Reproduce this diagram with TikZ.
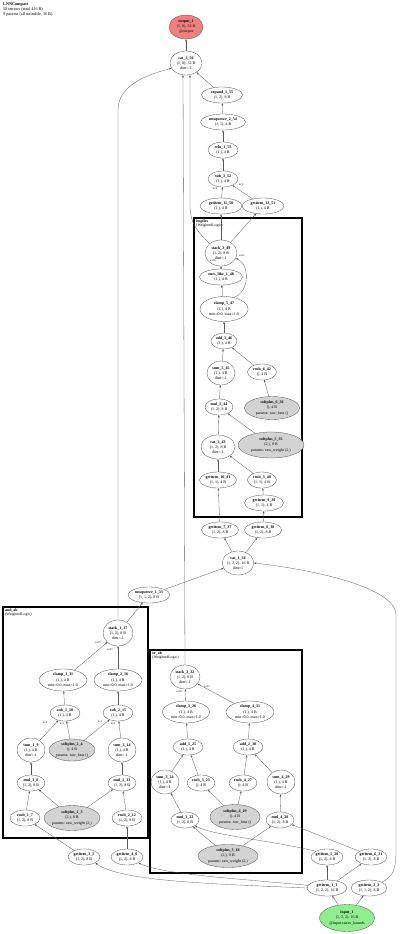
\documentclass[tikz,border=0pt]{standalone}
\usepackage{fontspec}
\setmainfont{Liberation Serif}
\usetikzlibrary{shapes.geometric,arrows.meta}
\definecolor{outc}{RGB}{240,128,128}
\definecolor{inc}{RGB}{144,238,144}
\definecolor{parc}{RGB}{211,211,211}
\tikzset{
 nd/.style={ellipse,draw=black!70,line width=0.3pt,fill=white,inner sep=0pt,align=center,font=\fontsize{4}{5.1}\selectfont},
 par/.style={nd,fill=parc},
 outn/.style={nd,fill=outc},
 inn/.style={nd,fill=inc},
 ar/.style={-{Stealth[length=2.5pt,width=1.9pt]},line width=0.3pt,draw=black!65},
 grp/.style={draw=black,line width=1.3pt},
 grplab/.style={anchor=north west,inner sep=0pt,align=left,font=\fontsize{3.9}{4.4}\selectfont},
 elab/.style={inner sep=0.2pt,font=\fontsize{2.8}{3}\selectfont},
}
\newcommand{\mynode}[7]{\node[#6,minimum width=#4pt,minimum height=#5pt] (#1) at (#2,#3) {#7};}
\newcommand{\nm}[1]{\textbf{#1}}
\begin{document}
\begin{tikzpicture}[x=1pt,y=-1pt]
\useasboundingbox (0,0) rectangle (400,934);
\node[grplab,font=\fontsize{4.2}{4.9}\selectfont] (hdr) at (3,3) {\textbf{LNNCompact}\\58 tensors (total 416 B)\\9 params (all trainable, 36 B)};
% group boxes
\draw[grp] (194,218) rectangle (302,517);
\node[grplab] (lbimp) at (196,219.5) {\textbf{implies}\\(WeightedLogic)};
\draw[grp] (3,607) rectangle (148,838);
\node[grplab] (lband) at (5,608.5) {\textbf{and\_ab}\\(WeightedLogic)};
\draw[grp] (150,650) rectangle (302,873);
\node[grplab] (lbor) at (152,651.5) {\textbf{or\_ab}\\(WeightedLogic)};
% top chain
\mynode{out1}{186}{27}{34}{24}{outn}{\nm{output\_1}\\(1, 8), 32 B\\@output}
\mynode{cat356}{186}{63}{32}{24}{nd}{\nm{cat\_3\_56}\\(1, 8), 32 B\\dim=-1}
\mynode{exp155}{222}{95}{41}{16}{nd}{\nm{expand\_1\_55}\\(1, 2), 8 B}
\mynode{uns254}{223}{122}{45}{16}{nd}{\nm{unsqueeze\_2\_54}\\(1, 1), 4 B}
\mynode{relu153}{223}{150}{30}{16}{nd}{\nm{relu\_1\_53}\\(1,), 4 B}
\mynode{sub352}{223}{179}{30}{16}{nd}{\nm{sub\_3\_52}\\(1,), 4 B}
\mynode{g1150}{221}{206}{42}{16}{nd}{\nm{getitem\_11\_50}\\(1,), 4 B}
\mynode{g1251}{263}{206}{42}{16}{nd}{\nm{getitem\_12\_51}\\(1,), 4 B}
% implies
\mynode{s349}{221}{253}{32}{26}{nd}{\nm{stack\_3\_49}\\(1, 2), 8 B\\dim=-1}
\mynode{ol148}{221}{277}{43}{16}{nd}{\nm{ones\_like\_1\_48}\\(1,), 4 B}
\mynode{c547}{224}{309}{48}{25}{nd}{\nm{clamp\_5\_47}\\(1,), 4 B\\min=0.0, max=1.0}
\mynode{a346}{224}{341}{26}{16}{nd}{\nm{add\_3\_46}\\(1,), 4 B}
\mynode{sum545}{221}{373}{28}{24}{nd}{\nm{sum\_5\_45}\\(1,), 4 B\\dim=-1}
\mynode{r642}{262}{372}{29}{16}{nd}{\nm{rsub\_6\_42}\\(), 4 B}
\mynode{sp636}{272}{408}{55}{23}{par}{\nm{softplus\_6\_36}\\(), 4 B\\params: raw\_beta ()}
\mynode{m544}{219}{407}{28}{16}{nd}{\nm{mul\_5\_44}\\(1, 2), 8 B}
\mynode{cat243}{218}{447}{34}{24}{nd}{\nm{cat\_2\_43}\\(1, 2), 8 B\\dim=-1}
\mynode{sp535}{271}{445}{66}{26}{par}{\nm{softplus\_5\_35}\\(2,), 8 B\\params: raw\_weight (2,)}
\mynode{g1041}{218}{480}{37}{16}{nd}{\nm{getitem\_10\_41}\\(1, 1), 4 B}
\mynode{r540}{262}{480}{29}{16}{nd}{\nm{rsub\_5\_40}\\(1, 1), 4 B}
\mynode{g939}{264}{503}{39}{16}{nd}{\nm{getitem\_9\_39}\\(1, 1), 4 B}
\mynode{g737}{220}{530}{37}{16}{nd}{\nm{getitem\_7\_37}\\(1, 2), 8 B}
\mynode{g838}{263}{530}{37}{16}{nd}{\nm{getitem\_8\_38}\\(1, 2), 8 B}
\mynode{cat134}{238}{563}{31}{24}{nd}{\nm{cat\_1\_34}\\(1, 2, 2), 16 B\\dim=1}
\mynode{uns133}{149}{595}{42}{16}{nd}{\nm{unsqueeze\_1\_33}\\(1, 1, 2), 8 B}
% and
\mynode{s117}{118}{633}{30}{26}{nd}{\nm{stack\_1\_17}\\(1, 2), 8 B\\dim=-1}
\mynode{c111}{63}{680}{48}{22}{nd}{\nm{clamp\_1\_11}\\(1,), 4 B\\min=0.0, max=1.0}
\mynode{c216}{118}{680}{48}{22}{nd}{\nm{clamp\_2\_16}\\(1,), 4 B\\min=0.0, max=1.0}
\mynode{sub110}{65}{713}{30}{16}{nd}{\nm{sub\_1\_10}\\(1,), 4 B}
\mynode{sub215}{118}{713}{30}{16}{nd}{\nm{sub\_2\_15}\\(1,), 4 B}
\mynode{sum19}{31}{750}{28}{24}{nd}{\nm{sum\_1\_9}\\(1,), 4 B\\dim=-1}
\mynode{sp24}{72}{750}{42}{22}{par}{\nm{softplus\_2\_4}\\(), 4 B\\params: raw\_beta ()}
\mynode{sum214}{122}{750}{28}{24}{nd}{\nm{sum\_2\_14}\\(1,), 4 B\\dim=-1}
\mynode{m18}{31}{783}{28}{16}{nd}{\nm{mul\_1\_8}\\(1, 2), 8 B}
\mynode{m213}{122}{783}{28}{16}{nd}{\nm{mul\_2\_13}\\(1, 2), 8 B}
\mynode{sp13}{72}{818}{52}{25}{par}{\nm{softplus\_1\_3}\\(2,), 8 B\\params: raw\_weight (2,)}
\mynode{r17}{25}{818}{30}{16}{nd}{\nm{rsub\_1\_7}\\(1, 2), 8 B}
\mynode{r212}{127}{818}{30}{16}{nd}{\nm{rsub\_2\_12}\\(1, 2), 8 B}
\mynode{g35}{84}{857}{32}{16}{nd}{\nm{getitem\_3\_5}\\(1, 2), 8 B}
\mynode{g46}{127}{857}{32}{16}{nd}{\nm{getitem\_4\_6}\\(1, 2), 8 B}
% or
\mynode{s232}{185}{677}{30}{24}{nd}{\nm{stack\_2\_32}\\(1, 2), 8 B\\dim=-1}
\mynode{c326}{186}{712}{47}{22}{nd}{\nm{clamp\_3\_26}\\(1,), 4 B\\min=0.0, max=1.0}
\mynode{c431}{250}{712}{48}{22}{nd}{\nm{clamp\_4\_31}\\(1,), 4 B\\min=0.0, max=1.0}
\mynode{a125}{188}{747}{30}{16}{nd}{\nm{add\_1\_25}\\(1,), 4 B}
\mynode{a230}{248}{747}{30}{16}{nd}{\nm{add\_2\_30}\\(1,), 4 B}
\mynode{sum324}{165}{782}{28}{24}{nd}{\nm{sum\_3\_24}\\(1,), 4 B\\dim=-1}
\mynode{r323}{201}{783}{28}{16}{nd}{\nm{rsub\_3\_23}\\(), 4 B}
\mynode{r427}{243}{783}{28}{16}{nd}{\nm{rsub\_4\_27}\\(), 4 B}
\mynode{sum429}{281}{782}{28}{24}{nd}{\nm{sum\_4\_29}\\(1,), 4 B\\dim=-1}
\mynode{sp419}{235}{817}{50}{25}{par}{\nm{softplus\_4\_19}\\(), 4 B\\params: raw\_beta ()}
\mynode{m322}{185}{820}{28}{16}{nd}{\nm{mul\_3\_22}\\(1, 2), 8 B}
\mynode{m428}{280}{820}{28}{16}{nd}{\nm{mul\_4\_28}\\(1, 2), 8 B}
\mynode{sp318}{228}{856}{60}{23}{par}{\nm{softplus\_3\_18}\\(2,), 8 B\\params: raw\_weight (2,)}
% bottom
\mynode{g520}{327}{857}{32}{16}{nd}{\nm{getitem\_5\_20}\\(1, 2), 8 B}
\mynode{g621}{371}{857}{32}{16}{nd}{\nm{getitem\_6\_21}\\(1, 2), 8 B}
\mynode{g11}{327}{888}{40}{16}{nd}{\nm{getitem\_1\_1}\\(1, 2, 2), 16 B}
\mynode{g22}{369}{888}{36}{16}{nd}{\nm{getitem\_2\_2}\\(1, 1, 2), 8 B}
\mynode{in1}{347}{918}{55}{27}{inn}{\nm{input\_1}\\(1, 2, 2), 16 B\\@input.states\_bounds}
% ---- edges: top chain
\draw[ar] (cat356) -- (out1);
\draw[ar] (exp155) -- (cat356);
\draw[ar] (uns254) -- (exp155);
\draw[ar] (relu153) -- (uns254);
\draw[ar] (sub352) -- (relu153);
\draw[ar] (g1150) -- (sub352);
\draw[ar] (g1251) -- (sub352);
\node[elab] (lsub0) at (215,189) {in:0};
\node[elab] (lsub1) at (241,185) {in:1};
\draw[ar] (s349) -- (g1150);
\draw[ar] (s349) -- (g1251);
\draw[ar] (s349.north west) .. controls (198,232) and (190,224) .. (190,205) -- ([xshift=4pt]cat356.south);
\draw[ar] (s232.north) -- ([xshift=-3pt]cat356.south);
\draw[ar] (s117.north) -- (118,110) .. controls (118,84) and (150,74) .. (cat356.200);
% implies
\draw[ar] (ol148) -- (s349);
\node[elab] (lv0) at (213,261) {val:0};
\draw[ar] (c547.50) .. controls (250,292) and (250,264) .. (s349.-20);
\node[elab] (lv1) at (242,256) {val:1};
\draw[ar] (c547) -- (ol148);
\draw[ar] (a346) -- (c547);
\draw[ar] (sum545) -- (a346);
\draw[ar] (r642) -- (a346);
\draw[ar] (sp636) -- (r642);
\draw[ar] (m544) -- (sum545);
\draw[ar] (sp535) -- (m544);
\draw[ar] (cat243) -- (m544);
\draw[ar] (g1041) -- (cat243);
\draw[ar] (r540) -- (cat243);
\draw[ar] (g939) -- (r540);
\draw[ar] (g737) -- (g1041);
\draw[ar] (g838) -- (g939);
\draw[ar] (cat134) -- (g737);
\draw[ar] (cat134) -- (g838);
\draw[ar] (uns133) -- (cat134);
\draw[ar] (g22.north east) .. controls (394,876) and (396,868) .. (396,850) -- (396,615) .. controls (396,585) and (300,568) .. (cat134.east);
% and
\draw[ar] (s117) -- (uns133);
\draw[ar] (c111) -- (s117);
\node[elab] (lav1) at (98,643) {val:0};
\draw[ar] (c216) -- (s117);
\node[elab] (lav0) at (110,650) {val:1};
\draw[ar] (sub110) -- (c111);
\draw[ar] (sub215) -- (c216);
\draw[ar] (sum19) -- (sub110);
\draw[ar] (sp24) -- (sub110);
\node[elab] (las0) at (45,723) {in:0};
\node[elab] (las1) at (62,724) {in:1};
\draw[ar] (sp24) -- (sub215);
\draw[ar] (sum214) -- (sub215);
\node[elab] (las2) at (100,722) {in:1};
\node[elab] (las3) at (113,724) {in:0};
\draw[ar] (m18) -- (sum19);
\draw[ar] (m213) -- (sum214);
\draw[ar] (r17) -- (m18);
\draw[ar] (sp13) -- (m18);
\draw[ar] (sp13) -- (m213);
\draw[ar] (r212) -- (m213);
\draw[ar] (g35) -- (r17);
\draw[ar] (g46) -- (r212);
\draw[ar] (g11.west) .. controls (220,884) and (120,882) .. (g35.south east);
\draw[ar] (g11.172) .. controls (230,878) and (160,874) .. (g46.south east);
% or
\draw[ar] (c326) -- (s232);
\node[elab] (lov0) at (179,692) {val:0};
\draw[ar] (c431) -- (s232);
\node[elab] (lov1) at (207,687) {val:1};
\draw[ar] (a125) -- (c326);
\draw[ar] (a230) -- (c431);
\draw[ar] (sum324) -- (a125);
\draw[ar] (r323) -- (a125);
\draw[ar] (r427) -- (a230);
\draw[ar] (sum429) -- (a230);
\draw[ar] (sp419) -- (r323);
\draw[ar] (sp419) -- (r427);
\draw[ar] (m322) -- (sum324);
\draw[ar] (m428) -- (sum429);
\draw[ar] (sp318) -- (m322);
\draw[ar] (sp318) -- (m428);
\draw[ar] (g520.north west) .. controls (270,840) and (215,836) .. (m322.south east);
\draw[ar] (g621.north west) -- (m428);
% bottom
\draw[ar] (g11) -- (g520);
\draw[ar] (g11) -- (g621);
\draw[ar] (in1) -- (g11);
\draw[ar] (in1) -- (g22);
\end{tikzpicture}
\end{document}
